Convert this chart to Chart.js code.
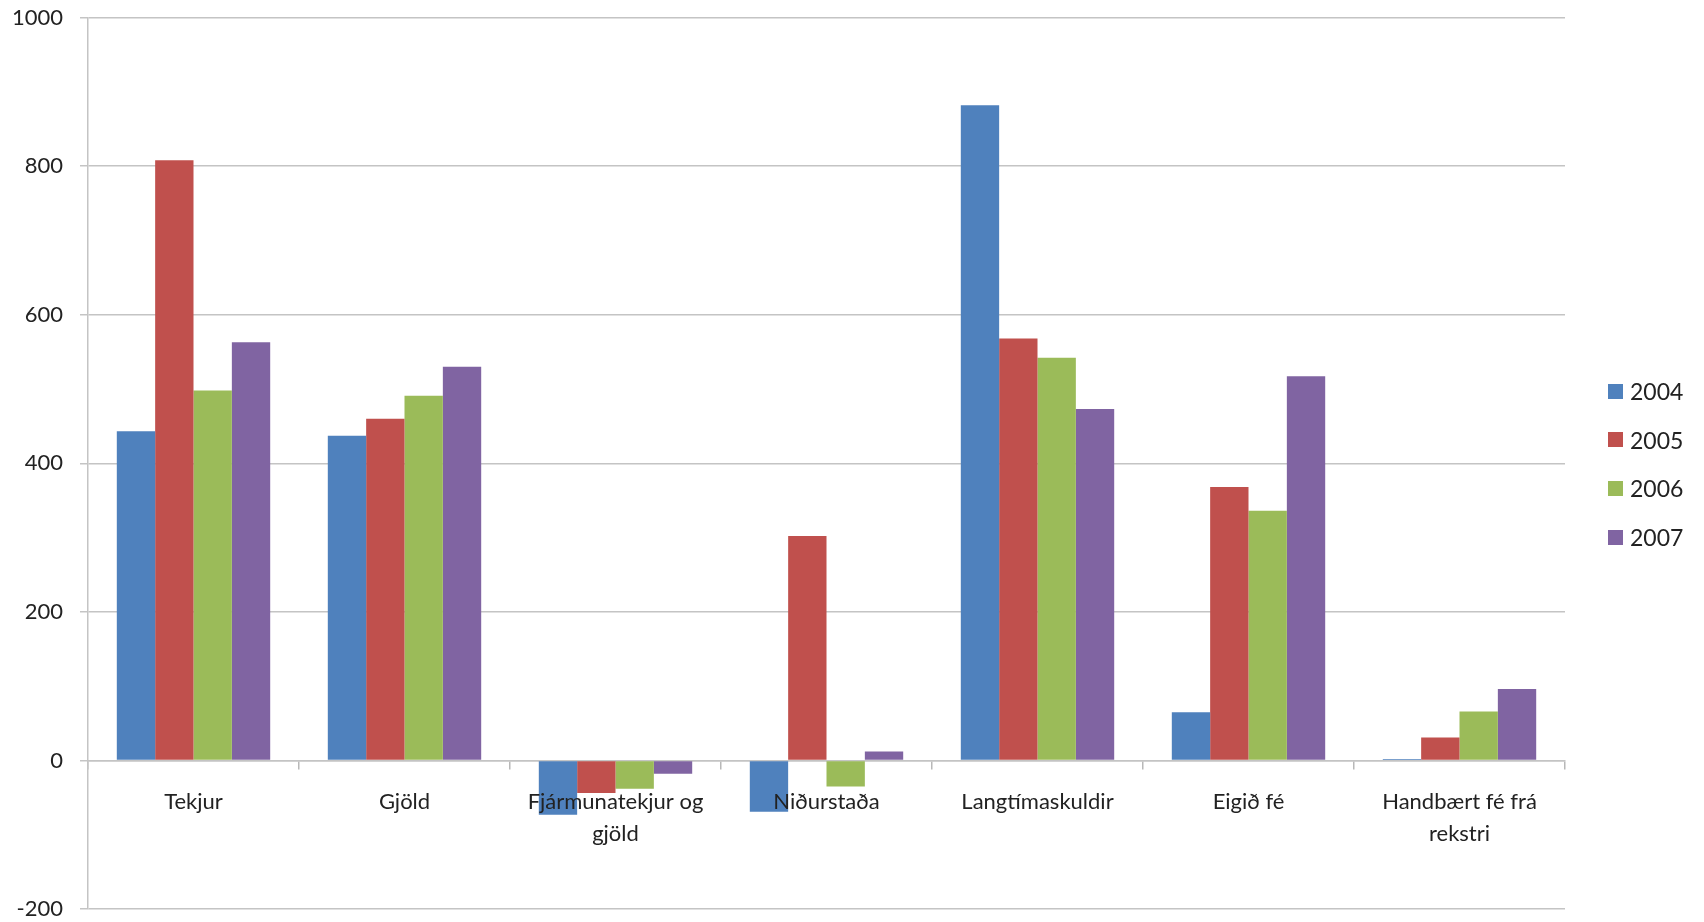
<!DOCTYPE html>
<html>
<head>
<meta charset="utf-8">
<title>Rekstur 2004-2007</title>
<script src="https://cdn.jsdelivr.net/npm/chart.js@4.4.1/dist/chart.umd.min.js"></script>
<style>
  html, body { margin: 0; padding: 0; background: #fff; }
  .chart-wrap { position: relative; width: 1704px; height: 922px; }
  .legend { position: absolute; left: 1608px; top: 367px; font-family: Lato, 'Open Sans', sans-serif; font-size: 23px; color: #222; }
  .legend__item { display: flex; align-items: center; height: 48.6px; }
  .legend__color { width: 15px; height: 15px; margin-right: 7px; }
</style>
</head>
<body>
<div class="chart-wrap">
  <canvas id="barChart"></canvas>
  <div class="legend" id="legend"></div>
</div>
<script>
// Categories and series values
const categories = [
  'Tekjur',
  'Gjöld',
  ['Fjármunatekjur og', 'gjöld'],
  'Niðurstaða',
  'Langtímaskuldir',
  'Eigið fé',
  ['Handbært fé frá', 'rekstri']
];

const years = ['2004', '2005', '2006', '2007'];

const values2004 = [443, 437, -73, -69, 882, 65, 2];
const values2005 = [808, 460, -44, 302, 568, 368, 31];
const values2006 = [498, 491, -38, -35, 542, 336, 66];
const values2007 = [563, 530, -18, 12, 473, 517, 96];

const yTicks = [-200, 0, 200, 400, 600, 800, 1000];

// Excel 2007 palette
const seriesColors = ['#4f81bd', '#c0504d', '#9bbb59', '#8064a2'];

const seriesValues = [values2004, values2005, values2006, values2007];

const gridGray = '#c4c4c4';
const textColor = '#222';
const fontFamily = "Lato, 'Open Sans', sans-serif";

const datasets = years.map((year, i) => ({
  label: year,
  data: seriesValues[i],
  backgroundColor: seriesColors[i],
  borderWidth: 0,
  categoryPercentage: 0.727,
  barPercentage: 1.0
}));

new Chart(document.getElementById('barChart'), {
  type: 'bar',
  data: { labels: categories, datasets: datasets },
  options: {
    responsive: true,
    maintainAspectRatio: false,
    animation: false,
    layout: { padding: { left: 12, top: 17.5, right: 139, bottom: 13 } },
    plugins: {
      legend: { display: false },
      tooltip: { enabled: false }
    },
    scales: {
      x: {
        position: { y: 0 },
        offset: true,
        grid: {
          offset: true,
          drawOnChartArea: false,
          tickLength: 8,
          color: '#b8b8b8',
          lineWidth: 1.5
        },
        border: { color: gridGray, width: 1.5 },
        ticks: {
          z: 1, // category labels sit on top of the bars, like in Excel
          autoSkip: false,
          maxRotation: 0,
          padding: 18,
          color: textColor,
          font: { family: fontFamily, size: 22, lineHeight: 1.45 }
        },
        afterFit: scale => { scale.height = 0; }
      },
      y: {
        min: yTicks[0],
        max: yTicks[yTicks.length - 1],
        afterBuildTicks: scale => { scale.ticks = yTicks.map(v => ({ value: v })); },
        afterFit: scale => {
          scale.width = 76;
          // tick padding would otherwise push the plot in from top and bottom
          scale.paddingTop = 0;
          scale.paddingBottom = 0;
        },
        grid: { color: gridGray, lineWidth: 1.5, tickLength: 8 },
        border: { color: gridGray, width: 1.5 },
        ticks: {
          padding: 17,
          color: textColor,
          font: { family: fontFamily, size: 22 },
          callback: value => String(value)
        }
      }
    }
  }
});

// Legend
document.getElementById('legend').innerHTML = years.map((year, i) => `
  <div class="legend__item">
    <div class="legend__color" style="background: ${seriesColors[i]}"></div>
    <span>${year}</span>
  </div>
`).join('');
</script>
</body>
</html>
